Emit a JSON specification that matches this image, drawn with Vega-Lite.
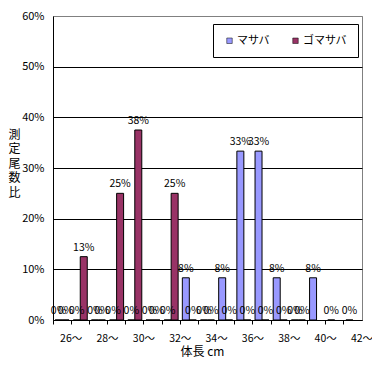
{
  "$schema": "https://vega.github.io/schema/vega-lite/v6.json",
  "width": 309,
  "height": 304,
  "autosize": {"type": "none"},
  "padding": {"left": 53, "top": 16, "right": 10, "bottom": 45},
  "background": "white",
  "config": {
    "view": {"stroke": "#808080", "strokeWidth": 1},
    "font": "Noto Sans CJK JP"
  },
  "data": {
    "values": [
      {"length": "26", "species": "マサバ", "ratio": 0},
      {"length": "27", "species": "マサバ", "ratio": 0},
      {"length": "28", "species": "マサバ", "ratio": 0},
      {"length": "29", "species": "マサバ", "ratio": 0},
      {"length": "30", "species": "マサバ", "ratio": 0},
      {"length": "31", "species": "マサバ", "ratio": 0},
      {"length": "32", "species": "マサバ", "ratio": 0},
      {"length": "33", "species": "マサバ", "ratio": 0.0833},
      {"length": "34", "species": "マサバ", "ratio": 0},
      {"length": "35", "species": "マサバ", "ratio": 0.0833},
      {"length": "36", "species": "マサバ", "ratio": 0.3333},
      {"length": "37", "species": "マサバ", "ratio": 0.3333},
      {"length": "38", "species": "マサバ", "ratio": 0.0833},
      {"length": "39", "species": "マサバ", "ratio": 0},
      {"length": "40", "species": "マサバ", "ratio": 0.0833},
      {"length": "41", "species": "マサバ", "ratio": 0},
      {"length": "42", "species": "マサバ", "ratio": 0},
      {"length": "26", "species": "ゴマサバ", "ratio": 0},
      {"length": "27", "species": "ゴマサバ", "ratio": 0.125},
      {"length": "28", "species": "ゴマサバ", "ratio": 0},
      {"length": "29", "species": "ゴマサバ", "ratio": 0.25},
      {"length": "30", "species": "ゴマサバ", "ratio": 0.375},
      {"length": "31", "species": "ゴマサバ", "ratio": 0},
      {"length": "32", "species": "ゴマサバ", "ratio": 0.25},
      {"length": "33", "species": "ゴマサバ", "ratio": 0},
      {"length": "34", "species": "ゴマサバ", "ratio": 0},
      {"length": "35", "species": "ゴマサバ", "ratio": 0},
      {"length": "36", "species": "ゴマサバ", "ratio": 0},
      {"length": "37", "species": "ゴマサバ", "ratio": 0},
      {"length": "38", "species": "ゴマサバ", "ratio": 0},
      {"length": "39", "species": "ゴマサバ", "ratio": 0}
    ]
  },
  "encoding": {
    "x": {
      "field": "length",
      "type": "nominal",
      "sort": "ascending",
      "scale": {"paddingInner": 0, "paddingOuter": 0},
      "axis": {
        "title": "体長 cm",
        "titleFontSize": 12,
        "titleFontWeight": "normal",
        "titleColor": "black",
        "titleX": 149,
        "titleY": 26,
        "titleAlign": "center",
        "titleBaseline": "top",
        "bandPosition": 0,
        "labelOffset": 9.1,
        "labelAngle": 0,
        "labelExpr": "toNumber(datum.value) % 2 == 0 ? datum.value + '〜' : ''",
        "labelFontSize": 10.5,
        "labelColor": "black",
        "labelPadding": 9,
        "tickSize": 4,
        "tickColor": "black",
        "domainColor": "black",
        "grid": false
      }
    },
    "xOffset": {
      "field": "species",
      "type": "nominal",
      "sort": ["マサバ", "ゴマサバ"],
      "scale": {"paddingInner": 0, "paddingOuter": 0.3}
    },
    "y": {
      "field": "ratio",
      "type": "quantitative",
      "scale": {"domain": [0, 0.6]},
      "axis": {
        "title": ["測", "定", "尾", "数", "比"],
        "titleAngle": 0,
        "titleFontSize": 12,
        "titleFontWeight": "normal",
        "titleColor": "black",
        "titleLineHeight": 14.5,
        "titleX": -39,
        "titleY": 113,
        "titleAlign": "center",
        "titleBaseline": "top",
        "values": [0, 0.1, 0.2, 0.3, 0.4, 0.5, 0.6],
        "format": ".0%",
        "labelFontSize": 11,
        "labelColor": "black",
        "labelPadding": 9,
        "ticks": false,
        "tickSize": 0,
        "domainColor": "black",
        "grid": true,
        "gridColor": {"condition": {"test": "datum.value >= 0.6", "value": "#808080"}, "value": "black"},
        "gridOpacity": 1
      }
    }
  },
  "layer": [
    {
      "mark": {"type": "bar", "stroke": "black", "strokeWidth": 1},
      "encoding": {
        "color": {
          "field": "species",
          "type": "nominal",
          "sort": ["マサバ", "ゴマサバ"],
          "scale": {"domain": ["マサバ", "ゴマサバ"], "range": ["#9999FF", "#993366"]},
          "legend": {
            "orient": "none",
            "legendX": 160,
            "legendY": 8,
            "direction": "horizontal",
            "columns": 2,
            "title": null,
            "padding": 11,
            "columnPadding": 20,
            "strokeColor": "black",
            "fillColor": "white",
            "symbolType": "square",
            "symbolSize": 30,
            "symbolStrokeColor": "black",
            "symbolStrokeWidth": 0.5,
            "labelFontSize": 11,
            "labelColor": "black",
            "labelOffset": 2
          }
        }
      }
    },
    {
      "mark": {"type": "text", "baseline": "bottom", "dy": -4, "fontSize": 10.5, "color": "black"},
      "encoding": {
        "text": {"field": "ratio", "type": "quantitative", "format": ".0%"}
      }
    }
  ]
}
